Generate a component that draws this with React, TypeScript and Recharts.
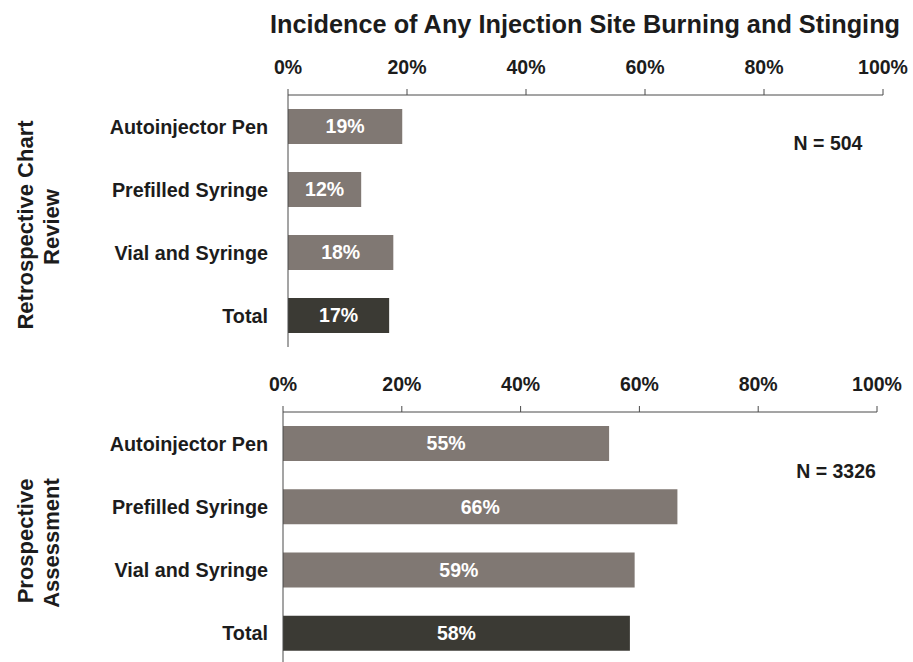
import React from 'react';
import { BarChart, Bar, XAxis, YAxis, LabelList, Cell } from 'recharts';

const categories = ['Autoinjector Pen', 'Prefilled Syringe', 'Vial and Syringe', 'Total'];
const retrospectiveValues = [19.2, 12.3, 17.7, 17.0];
const prospectiveValues = [54.9, 66.4, 59.2, 58.4];
const xTicks = [0, 20, 40, 60, 80, 100];
const titleText = 'Incidence of Any Injection Site Burning and Stinging';
const retroLines = ['Retrospective Chart', 'Review'];
const prospLines = ['Prospective', 'Assessment'];
const retroN = 'N = 504';
const prospN = 'N = 3326';

const FONT = '"Liberation Sans", Arial, sans-serif';
const BAR = '#807873';
const BAR_DARK = '#3b3a34';
const TEXT = '#1c1c1c';
const AXIS = '#4a4a4a';

const retroData = categories.map((name, i) => ({ name, value: retrospectiveValues[i] }));
const prospData = categories.map((name, i) => ({ name, value: prospectiveValues[i] }));

function Panel({ data, top, height, yWidth, rightMargin, xHeight, yTickMargin }: any) {
  return (
    <div style={{ position: 'absolute', left: 0, top }}>
      <BarChart
        width={913}
        height={height}
        data={data}
        layout="vertical"
        margin={{ top: 0, right: rightMargin, bottom: 0, left: 0 }}
      >
        <XAxis
          type="number"
          orientation="top"
          domain={[0, 100]}
          ticks={xTicks}
          tickFormatter={(v: number) => `${v}%`}
          height={xHeight}
          tickSize={6}
          tickMargin={15}
          interval={0}
          stroke={AXIS}
          tick={{ fill: TEXT, fontSize: 19.5, fontWeight: 700, fontFamily: FONT }}
          allowDataOverflow
        />
        <YAxis
          type="category"
          dataKey="name"
          width={yWidth}
          tickSize={0}
          tickMargin={yTickMargin}
          interval={0}
          stroke={AXIS}
          tick={{ fill: TEXT, fontSize: 19.8, fontWeight: 700, fontFamily: FONT }}
        />
        <Bar dataKey="value" barSize={35} isAnimationActive={false}>
          {data.map((d: any, i: number) => (
            <Cell key={d.name} fill={i === data.length - 1 ? BAR_DARK : BAR} />
          ))}
          <LabelList
            dataKey="value"
            position="center"
            formatter={(v: any) => `${Math.round(Number(v))}%`}
            fill="#ffffff"
            fontSize={19.5}
            fontWeight={700}
            fontFamily={FONT}
          />
        </Bar>
      </BarChart>
    </div>
  );
}

export default function App() {
  return (
    <div
      style={{
        position: 'absolute',
        left: 0,
        top: 0,
        width: 913,
        height: 662,
        overflow: 'hidden',
        background: '#ffffff',
        fontFamily: FONT,
      }}
    >
      <Panel data={retroData} top={0} height={347} yWidth={288} rightMargin={30} xHeight={95} yTickMargin={20} />
      <Panel data={prospData} top={347} height={318} yWidth={283} rightMargin={36} xHeight={65} yTickMargin={15} />
      <svg width={913} height={662} style={{ position: 'absolute', left: 0, top: 0, pointerEvents: 'none' }}>
        <text x={585} y={33} textAnchor="middle" fill={TEXT} fontSize={25.3} fontWeight={700} fontFamily={FONT}>
          {titleText}
        </text>
        <text x={828} y={150} textAnchor="middle" fill={TEXT} fontSize={19.5} fontWeight={700} fontFamily={FONT}>
          {retroN}
        </text>
        <text x={836} y={478} textAnchor="middle" fill={TEXT} fontSize={19.5} fontWeight={700} fontFamily={FONT}>
          {prospN}
        </text>
        <text transform="translate(33,225) rotate(-90)" textAnchor="middle" fill={TEXT} fontSize={22} fontWeight={700} fontFamily={FONT}>
          {retroLines[0]}
        </text>
        <text transform="translate(59,227) rotate(-90)" textAnchor="middle" fill={TEXT} fontSize={22} fontWeight={700} fontFamily={FONT}>
          {retroLines[1]}
        </text>
        <text transform="translate(33,541) rotate(-90)" textAnchor="middle" fill={TEXT} fontSize={22} fontWeight={700} fontFamily={FONT}>
          {prospLines[0]}
        </text>
        <text transform="translate(59,543) rotate(-90)" textAnchor="middle" fill={TEXT} fontSize={22} fontWeight={700} fontFamily={FONT}>
          {prospLines[1]}
        </text>
      </svg>
    </div>
  );
}
